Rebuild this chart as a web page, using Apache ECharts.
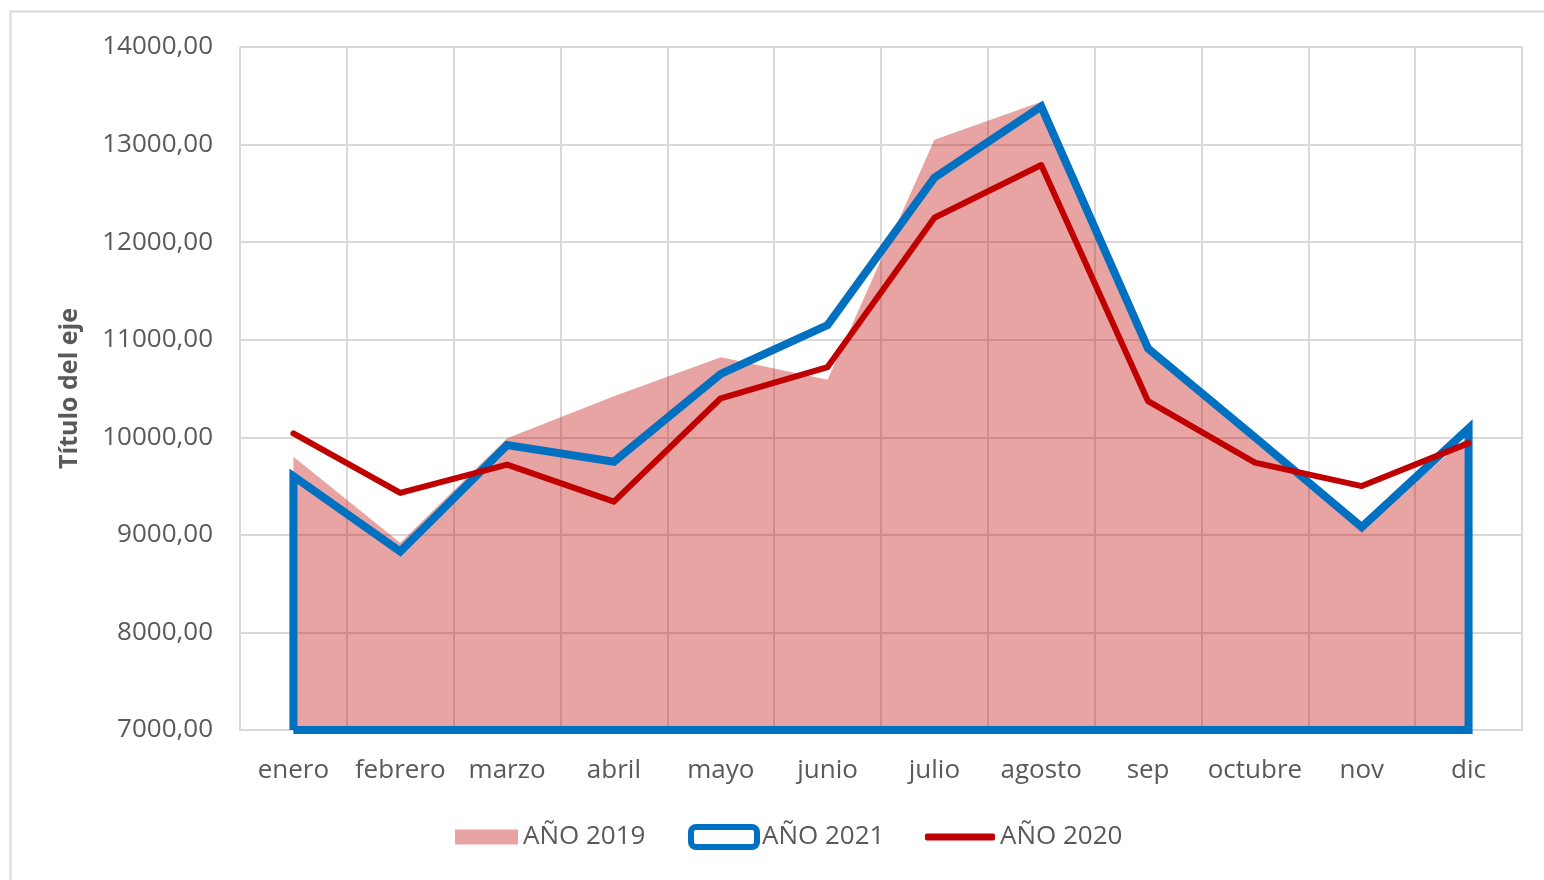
<!DOCTYPE html>
<html>
<head>
<meta charset="utf-8">
<script src="https://cdn.jsdelivr.net/npm/echarts@6/dist/echarts.min.js"></script>
<style>
  html, body { margin: 0; padding: 0; background: #fff; }
  #chart { width: 1544px; height: 880px; }
</style>
</head>
<body>
<div id="chart"></div>
<script>
// meses del eje X
var meses = ['enero', 'febrero', 'marzo', 'abril', 'mayo', 'junio', 'julio', 'agosto', 'sep', 'octubre', 'nov', 'dic'];

// valores
var anio2019 = [9800, 8920, 9990, 10420, 10820, 10590, 13050, 13440, 10900, 9980, 9060, 10010];
var anio2021 = [9600, 8830, 9920, 9750, 10650, 11150, 12660, 13390, 10910, 10000, 9080, 10090];
var anio2020 = [10040, 9430, 9720, 9340, 10400, 10720, 12250, 12790, 10370, 9740, 9500, 9940];

// eje Y
var yMin = 7000;
var yMax = 14000;
var yPaso = 1000;

var fuente = "'Open Sans', 'Liberation Sans', sans-serif";
var gris = '#595959';

// 2021 se dibuja como área sin relleno: borde cerrado hasta la base del eje
var contorno2021 = [[0, yMin]];
anio2021.forEach(function (v, i) { contorno2021.push([i, v]); });
contorno2021.push([anio2021.length - 1, yMin]);
contorno2021.push([0, yMin]);

var chart = echarts.init(document.getElementById('chart'));

function leyenda(nombre, left, w, h, icon, estilo) {
  return {
    data: [{ name: nombre, icon: icon, itemStyle: estilo }],
    left: left,
    top: 824,
    padding: 0,
    itemWidth: w,
    itemHeight: h,
    selectedMode: false,
    textStyle: { fontFamily: fuente, fontSize: 26, color: gris }
  };
}

chart.setOption({
  animation: false,
  backgroundColor: '#fff',
  graphic: [{
    type: 'rect',
    left: 8, top: 9,
    shape: { width: 1600, height: 1000 },
    style: { fill: 'none', stroke: '#d9d9d9', lineWidth: 2 },
    silent: true
  }],
  legend: [
    leyenda('AÑO 2019', 455, 63, 15, 'rect', { color: '#e8a3a3' }),
    leyenda('AÑO 2021', 688, 66, 20, 'roundRect', { color: '#fff', borderColor: '#0070C0', borderWidth: 6 }),
    leyenda('AÑO 2020', 925, 70, 7, 'roundRect', { color: '#C00000' })
  ],
  grid: { left: 240, right: 22, top: 47, bottom: 150 },
  xAxis: {
    type: 'category',
    data: meses,
    boundaryGap: true,
    axisLine: { lineStyle: { color: '#d9d9d9', width: 2 } },
    axisTick: { show: false },
    axisLabel: { interval: 0, margin: 28, fontFamily: fuente, fontSize: 26, color: gris },
    splitLine: { show: true, interval: 0, lineStyle: { color: '#d9d9d9', width: 2 } }
  },
  yAxis: {
    type: 'value',
    min: yMin,
    max: yMax,
    interval: yPaso,
    name: 'Título del eje',
    nameLocation: 'middle',
    nameRotate: 90,
    nameGap: 158,
    nameTextStyle: { fontFamily: fuente, fontSize: 25, fontWeight: 'bold', color: gris },
    axisLine: { show: false },
    axisTick: { show: false },
    axisLabel: {
      margin: 27, fontFamily: fuente, fontSize: 26, color: gris,
      formatter: function (v) { return v.toFixed(2).replace('.', ','); }
    },
    splitLine: { lineStyle: { color: '#d9d9d9', width: 2 } }
  },
  series: [
    {
      name: 'AÑO 2019',
      type: 'line',
      data: anio2019,
      symbol: 'none',
      lineStyle: { width: 0 },
      itemStyle: { color: '#e8a3a3' },
      areaStyle: { color: 'rgba(192,0,0,0.36)', opacity: 1 },
      z: 1
    },
    {
      name: 'AÑO 2021',
      type: 'line',
      data: contorno2021,
      symbol: 'none',
      clip: false,
      itemStyle: { color: '#0070C0' },
      lineStyle: { color: '#0070C0', width: 8, join: 'miter' },
      z: 2
    },
    {
      name: 'AÑO 2020',
      type: 'line',
      data: anio2020,
      symbol: 'none',
      itemStyle: { color: '#C00000' },
      lineStyle: { color: '#C00000', width: 6, cap: 'round', join: 'round' },
      z: 3
    }
  ]
});
</script>
</body>
</html>
